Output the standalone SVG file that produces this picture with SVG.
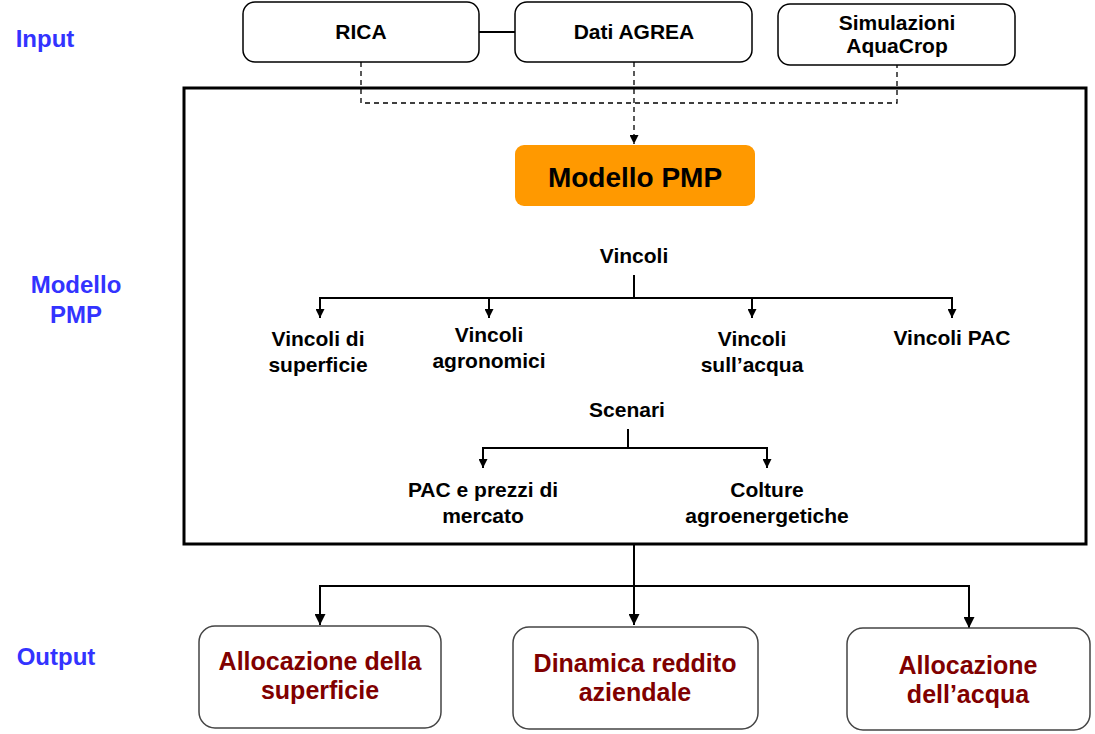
<svg xmlns="http://www.w3.org/2000/svg" width="1095" height="734" viewBox="0 0 1095 734">
<defs>
<style>
text{font-family:"Liberation Sans",Arial,sans-serif;font-weight:bold;text-anchor:middle}
.lbl{fill:#3333FF;font-size:24px}
.in{fill:#000;font-size:21px}
.v{fill:#000;font-size:21px}
.out{fill:#800000;font-size:25px}
.ibox{fill:#fff;stroke:#000;stroke-width:1.5}
.obox{fill:#fff;stroke:#444;stroke-width:1.5}
.ln{fill:none;stroke:#000;stroke-width:2}
.dash{fill:none;stroke:#000;stroke-width:1.3;stroke-dasharray:5,4}
</style>
<marker id="arr" viewBox="0 0 10 10" refX="10" refY="5" markerWidth="9" markerHeight="9" markerUnits="userSpaceOnUse" orient="auto">
<path d="M0,0 L10,5 L0,10 z" fill="#000"/>
</marker>
<marker id="arrL" viewBox="0 0 10 10" refX="10" refY="5" markerWidth="11" markerHeight="11" markerUnits="userSpaceOnUse" orient="auto">
<path d="M0,0 L10,5 L0,10 z" fill="#000"/>
</marker>
</defs>
<rect width="1095" height="734" fill="#fff"/>

<g id="labels">
<text class="lbl" x="45" y="47">Input</text>
<text class="lbl" x="76" y="293">Modello</text>
<text class="lbl" x="76" y="323">PMP</text>
<text class="lbl" x="56" y="665">Output</text>
</g>

<g id="frame">
<rect x="184" y="88" width="902" height="456" fill="none" stroke="#000" stroke-width="3"/>
</g>

<g id="connectors">
<line class="ln" x1="479" y1="32" x2="515" y2="32"/>
<polyline class="dash" points="361,62 361,103 897,103 897,65"/>
<line class="dash" x1="634" y1="62" x2="634" y2="144" marker-end="url(#arr)"/>
<line class="ln" x1="634" y1="275" x2="634" y2="298"/>
<line class="ln" x1="320" y1="298" x2="952" y2="298"/>
<line class="ln" x1="320" y1="297" x2="320" y2="318" marker-end="url(#arr)"/>
<line class="ln" x1="489" y1="297" x2="489" y2="318" marker-end="url(#arr)"/>
<line class="ln" x1="752" y1="297" x2="752" y2="318" marker-end="url(#arr)"/>
<line class="ln" x1="952" y1="297" x2="952" y2="318" marker-end="url(#arr)"/>
<line class="ln" x1="628" y1="429" x2="628" y2="448"/>
<line class="ln" x1="483" y1="448" x2="767" y2="448"/>
<line class="ln" x1="483" y1="447" x2="483" y2="468" marker-end="url(#arr)"/>
<line class="ln" x1="767" y1="447" x2="767" y2="468" marker-end="url(#arr)"/>
<line class="ln" x1="634" y1="545" x2="634" y2="625" marker-end="url(#arrL)"/>
<polyline class="ln" points="320,625 320,586 969,586 969,628" fill="none"/>
<line class="ln" x1="320" y1="600" x2="320" y2="625" marker-end="url(#arrL)"/>
<line class="ln" x1="969" y1="600" x2="969" y2="628" marker-end="url(#arrL)"/>
</g>

<g id="rica">
<rect class="ibox" x="243" y="2" width="236" height="60" rx="12"/>
<text class="in" x="361" y="39">RICA</text>
</g>
<g id="agrea">
<rect class="ibox" x="515" y="2" width="237" height="60" rx="12"/>
<text class="in" x="634" y="39">Dati AGREA</text>
</g>
<g id="aquacrop">
<rect class="ibox" x="778" y="4" width="237" height="61" rx="12"/>
<text class="in" x="897" y="30">Simulazioni</text>
<text class="in" x="897" y="53">AquaCrop</text>
</g>

<g id="pmp">
<rect x="515" y="145" width="240" height="61" rx="9" fill="#FF9900"/>
<text x="635" y="187" font-size="28" fill="#000">Modello PMP</text>
</g>

<g id="vincoli">
<text class="v" x="634" y="263">Vincoli</text>
</g>
<g id="v-superficie">
<text class="v" x="318" y="346">Vincoli di</text>
<text class="v" x="318" y="372">superficie</text>
</g>
<g id="v-agronomici">
<text class="v" x="489" y="342">Vincoli</text>
<text class="v" x="489" y="368">agronomici</text>
</g>
<g id="v-acqua">
<text class="v" x="752" y="346">Vincoli</text>
<text class="v" x="752" y="372">sull’acqua</text>
</g>
<g id="v-pac">
<text class="v" x="952" y="345">Vincoli PAC</text>
</g>
<g id="scenari">
<text class="v" x="627" y="417">Scenari</text>
</g>
<g id="s-pac">
<text class="v" x="483" y="497">PAC e prezzi di</text>
<text class="v" x="483" y="523">mercato</text>
</g>
<g id="s-colture">
<text class="v" x="767" y="497">Colture</text>
<text class="v" x="767" y="523">agroenergetiche</text>
</g>

<g id="o-superficie">
<rect class="obox" x="199" y="626" width="242" height="102" rx="16"/>
<text class="out" x="320" y="670">Allocazione della</text>
<text class="out" x="320" y="699">superficie</text>
</g>
<g id="o-reddito">
<rect class="obox" x="513" y="627" width="245" height="102" rx="16"/>
<text class="out" x="635" y="672">Dinamica reddito</text>
<text class="out" x="635" y="701">aziendale</text>
</g>
<g id="o-acqua">
<rect class="obox" x="847" y="628" width="243" height="102" rx="16"/>
<text class="out" x="968" y="674">Allocazione</text>
<text class="out" x="968" y="703">dell’acqua</text>
</g>
</svg>
